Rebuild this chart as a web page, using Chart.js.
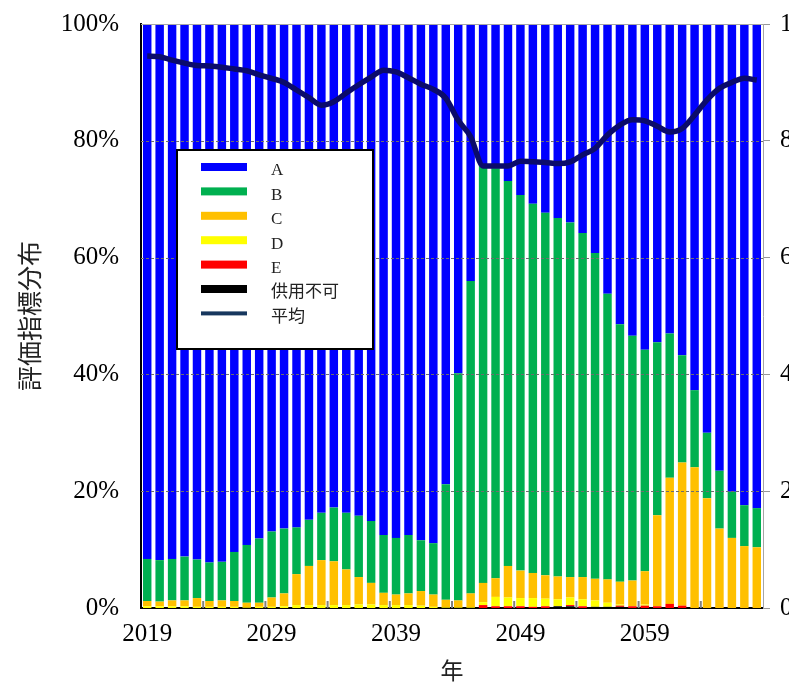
<!DOCTYPE html>
<html>
<head>
<meta charset="utf-8">
<script src="https://cdn.jsdelivr.net/npm/chart.js@4/dist/chart.umd.min.js"></script>
<style>
  html, body { margin: 0; padding: 0; background: #fff; overflow: hidden; }
  #wrap { width: 789px; height: 686px; overflow: hidden; position: relative; }
  #box { width: 830px; height: 691px; position: absolute; left: 0; top: -5px; }
</style>
</head>
<body>
<div id="wrap"><div id="box"><canvas id="distChart"></canvas></div></div>
<script>
// DATA ---------------------------------------------------------------------------
const years = ['2019','2020','2021','2022','2023','2024','2025','2026','2027','2028',
               '2029','2030','2031','2032','2033','2034','2035','2036','2037','2038',
               '2039','2040','2041','2042','2043','2044','2045','2046','2047','2048',
               '2049','2050','2051','2052','2053','2054','2055','2056','2057','2058',
               '2059','2060','2061','2062','2063','2064','2065','2066','2067','2068'];
const shownYears = ['2019','2029','2039','2049','2059'];

const gradeA = [91.6,91.8,91.6,91.2,91.7,92.2,92.1,90.4,89.2,88.1,
                86.9,86.4,86.2,84.9,83.7,82.8,83.7,84.2,85.1,87.5,
                88.0,87.5,88.4,88.9,78.8,59.8,44.0,24.3,24.7,26.9,
                29.3,30.8,32.3,33.2,34.0,35.8,39.2,46.2,51.4,53.4,
                55.8,54.5,53.0,56.7,62.7,70.0,76.5,80.1,82.4,82.9];
const gradeB = [7.2,7.1,7.1,7.5,6.6,6.6,6.6,8.4,9.9,11.0,
                11.3,11.1,8.0,7.9,8.1,9.2,9.7,10.5,10.6,9.9,
                9.7,10.0,8.7,8.8,19.8,38.9,53.5,71.4,70.2,65.9,
                64.3,63.2,62.1,61.4,60.7,58.9,55.8,48.9,44.1,41.9,
                37.9,29.6,24.7,18.4,13.2,11.2,9.9,7.9,7.0,6.7];
const gradeC = [0.9,0.8,1.0,1.0,1.5,1.0,1.1,1.0,0.8,0.7,
                1.6,2.2,5.3,6.7,7.7,7.5,6.1,4.7,3.7,2.1,
                1.8,2.0,2.5,2.1,1.3,1.2,2.4,3.3,3.2,5.4,
                4.7,4.3,4.0,3.9,3.5,3.8,3.7,4.0,3.9,4.4,
                5.7,15.6,21.6,24.5,24.1,18.8,13.6,12.0,10.6,10.4];
const gradeD = [0.3,0.3,0.3,0.3,0.2,0.2,0.2,0.2,0.1,0.2,
                0.2,0.3,0.5,0.5,0.5,0.5,0.5,0.6,0.6,0.5,
                0.5,0.5,0.4,0.2,0.1,0.1,0.1,0.5,1.6,1.5,
                1.4,1.5,1.3,1.2,1.3,1.2,1.1,0.7,0.2,0,
                0.2,0,0,0,0,0,0,0,0,0];
const gradeE = [0,0,0,0,0,0,0,0,0,0,
                0,0,0,0,0,0,0,0,0,0,
                0,0,0,0,0,0,0,0.5,0.3,0.3,
                0.3,0.2,0.3,0,0.2,0.3,0,0,0.2,0.3,
                0.4,0.3,0.7,0.4,0,0,0,0,0,0];
const unusable = [0,0,0,0,0,0,0,0,0,0,
                  0,0,0,0,0,0,0,0,0,0,
                  0,0,0,0,0,0,0,0,0,0,
                  0,0,0,0.3,0.3,0,0.2,0.2,0.2,0,
                  0,0,0,0,0,0,0,0,0,0];
const average = [94.5,94.4,93.8,93.3,92.9,92.8,92.6,92.3,92.0,91.3,
                 90.7,90.0,88.7,87.4,86.1,86.7,88.2,89.6,90.9,92.1,
                 91.8,90.8,89.7,88.8,87.3,83.5,80.7,75.7,75.7,75.7,
                 76.5,76.4,76.3,76.1,76.4,77.6,78.7,81.0,82.7,83.6,
                 83.4,82.5,81.5,82.1,84.4,87.0,89.0,90.0,90.7,90.4];

const serif = "'Liberation Serif', 'Times New Roman', serif";
const jp = "'Noto Sans CJK JP', sans-serif";
const lineColor = '#0b0b6b';

// gridlines drawn over the bars, under the line
const gridOverBars = {
    id: 'gridOverBars',
    beforeDatasetDraw(chart, args) {
        if (args.meta.type !== 'line') return;
        const {ctx, chartArea, scales} = chart;
        ctx.save();
        ctx.strokeStyle = '#6e6e6e';
        ctx.lineWidth = 1;
        ctx.setLineDash([3, 2]);
        scales.y.ticks.forEach(t => {
            if (t.value <= 0 || t.value >= 100) return;
            const y = Math.round(scales.y.getPixelForValue(t.value)) + 0.5;
            ctx.beginPath();
            ctx.moveTo(chartArea.left, y);
            ctx.lineTo(chartArea.right, y);
            ctx.stroke();
        });
        ctx.setLineDash([]);
        // top frame
        ctx.strokeStyle = '#a6a6a6';
        ctx.beginPath();
        ctx.moveTo(chartArea.left, chartArea.top + 0.5);
        ctx.lineTo(chartArea.right, chartArea.top + 0.5);
        ctx.stroke();
        // small x ticks between categories
        ctx.strokeStyle = '#808080';
        ctx.lineWidth = 2;
        for (let i = 5; i < years.length; i += 5) {
            const x = (scales.x.getPixelForValue(i - 1) + scales.x.getPixelForValue(i)) / 2;
            ctx.beginPath();
            ctx.moveTo(x, chartArea.bottom);
            ctx.lineTo(x, chartArea.bottom - 7);
            ctx.stroke();
        }
        ctx.restore();
    }
};

// legend box inside the plot
const boxLegend = {
    id: 'boxLegend',
    afterDraw(chart) {
        const {ctx, chartArea} = chart;
        const items = chart.data.datasets.slice().sort((a, b) => a.legendRank - b.legendRank);
        const left = chartArea.left + 36, top = chartArea.top + 126;
        ctx.save();
        ctx.fillStyle = '#fff';
        ctx.fillRect(left, top, 196, 199);
        ctx.strokeStyle = '#000';
        ctx.lineWidth = 2;
        ctx.strokeRect(left, top, 196, 199);
        ctx.font = "17px 'Liberation Serif', 'Noto Sans CJK JP'";
        ctx.textBaseline = 'middle';
        items.forEach((ds, i) => {
            const cy = top + 17 + i * 24.4;
            const isLine = ds.type === 'line';
            ctx.fillStyle = isLine ? '#17375e' : ds.backgroundColor;
            const h = isLine ? 4 : 8;
            ctx.fillRect(left + 24, cy - h / 2, 46, h);
            ctx.fillStyle = '#222';
            ctx.fillText(ds.label, left + 94, cy + 4);
        });
        ctx.restore();
    }
};

const bar = (label, data, color, rank) => ({
    type: 'bar', label, data, backgroundColor: color, borderWidth: 0,
    yAxisID: 'y', order: 1, legendRank: rank,
    categoryPercentage: 1.0, barPercentage: 0.68
});

const ctx = document.getElementById('distChart').getContext('2d');
new Chart(ctx, {
    data: {
        labels: years,
        datasets: [
            bar('供用不可', unusable, '#000000', 6),
            bar('E', gradeE, '#ff0000', 5),
            bar('D', gradeD, '#ffff00', 4),
            bar('C', gradeC, '#ffc000', 3),
            bar('B', gradeB, '#00b050', 2),
            bar('A', gradeA, '#0000ff', 1),
            {
                type: 'line', label: '平均', data: average, yAxisID: 'y2', order: 0, legendRank: 7,
                borderColor: lineColor, borderWidth: 5.5, pointRadius: 0, tension: 0.4,
                cubicInterpolationMode: 'monotone', fill: false
            }
        ]
    },
    options: {
        responsive: true,
        maintainAspectRatio: false,
        animation: false,
        devicePixelRatio: 1,
        layout: { padding: { left: 0, right: 0, top: 6, bottom: 0 } },
        plugins: { legend: { display: false }, tooltip: { enabled: false } },
        scales: {
            x: {
                stacked: true,
                grid: { display: false },
                border: { color: '#000', width: 2 },
                ticks: {
                    autoSkip: false, maxRotation: 0, padding: 3, color: '#000',
                    font: { family: serif, size: 25 },
                    callback: function (v) {
                        const l = this.getLabelForValue(v);
                        return shownYears.includes(l) ? l : '';
                    }
                },
                title: { display: true, text: '年', color: '#222', font: { family: jp, size: 23 }, padding: { top: 0, bottom: 2 } },
                afterFit: s => { s.height = 78; }
            },
            y: {
                stacked: true, min: 0, max: 100,
                grid: { display: false },
                border: { color: '#000', width: 2 },
                ticks: {
                    stepSize: 20, padding: 14, color: '#000',
                    font: { family: serif, size: 25 },
                    callback: v => v + '%'
                },
                title: { display: true, text: '評価指標分布', color: '#222', font: { family: jp, size: 25 }, padding: { top: 14 } },
                afterFit: s => { s.width = 141; }
            },
            y2: {
                position: 'right', min: 0, max: 100,
                grid: { drawOnChartArea: false, color: '#999', tickLength: 7 },
                border: { color: '#a6a6a6', width: 1 },
                ticks: { stepSize: 20, padding: 10, color: '#000', font: { family: serif, size: 25 } },
                afterFit: s => { s.width = 67; }
            }
        }
    },
    plugins: [gridOverBars, boxLegend]
});
</script>
</body>
</html>
